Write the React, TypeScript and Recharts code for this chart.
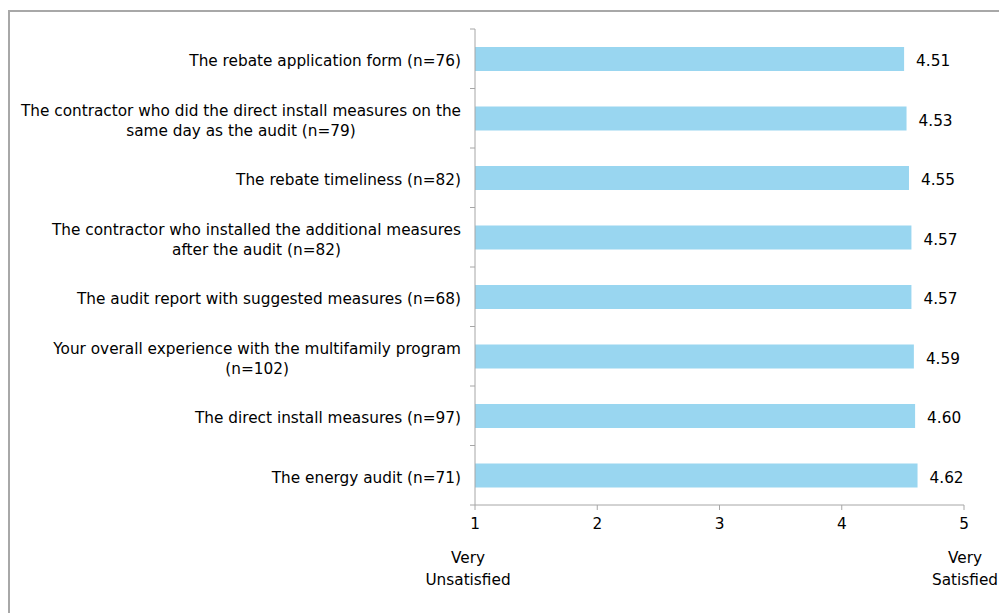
import React from "react"
import { Bar, BarChart, LabelList, XAxis, YAxis } from "recharts"

const items = [
  "The rebate application form (n=76)",
  "The contractor who did the direct install measures on the|same day as the audit (n=79)",
  "The rebate timeliness (n=82)",
  "The contractor who installed the additional measures|after the audit (n=82)",
  "The audit report with suggested measures (n=68)",
  "Your overall experience with the multifamily program|(n=102)",
  "The direct install measures (n=97)",
  "The energy audit (n=71)",
]
const scores = [4.51, 4.53, 4.55, 4.57, 4.57, 4.59, 4.6, 4.62]
const scaleTicks = [1, 2, 3, 4, 5]
const scaleEnds: Record<number, string[]> = {
  1: ["Very", "Unsatisfied"],
  5: ["Very", "Satisfied"],
}

const data = items.map((item, i) => ({ item, score: scores[i] }))

const W = 999
const H = 613
const TOP = 29
const BOTTOM = 108
const LEFT = 475
const RIGHT = 35
const BAND = (H - TOP - BOTTOM) / items.length
const FONT = "DejaVu Sans, Verdana, sans-serif"
const FS = 15.3
const AXIS = "#a6a6a6"

let ctx: CanvasRenderingContext2D | null = null
function textWidth(s: string) {
  if (!ctx) ctx = document.createElement("canvas").getContext("2d")
  if (!ctx) return s.length * FS * 0.6
  ctx.font = `${FS}px DejaVu Sans`
  return ctx.measureText(s).width
}

// category labels, with the band-boundary tick marks drawn alongside
function ItemTick(props: any) {
  const { y, payload, index } = props
  const lines: string[] = String(payload.value).split("|")
  const right = LEFT - 14
  const blockW = Math.max(...lines.map(textWidth))
  const cx = right - blockW / 2
  const lh = 20
  const y0 = y - ((lines.length - 1) * lh) / 2
  return (
    <g>
      <line x1={LEFT - 5} x2={LEFT} y1={y - BAND / 2} y2={y - BAND / 2} stroke={AXIS} />
      {index === items.length - 1 && (
        <line x1={LEFT - 5} x2={LEFT} y1={y + BAND / 2} y2={y + BAND / 2} stroke={AXIS} />
      )}
      {lines.map((l, i) => (
        <text
          key={i}
          x={lines.length > 1 ? cx : right}
          y={y0 + i * lh + 2}
          dy="0.36em"
          textAnchor={lines.length > 1 ? "middle" : "end"}
          fontFamily={FONT}
          fontSize={FS}
          fill="#000"
        >
          {l}
        </text>
      ))}
    </g>
  )
}

function ScaleTick(props: any) {
  const { x, y, payload } = props
  const ends = scaleEnds[payload.value]
  return (
    <g fontFamily={FONT} fontSize={FS} fill="#000">
      <text x={x} y={y + 17} textAnchor="middle">
        {payload.value}
      </text>
      {ends &&
        ends.map((l, i) => (
          <text key={i} x={x + (payload.value === 1 ? -7 : 1)} y={y + 51 + i * 22} textAnchor="middle">
            {l}
          </text>
        ))}
    </g>
  )
}

export default function App() {
  return (
    <div style={{ position: "fixed", left: 0, top: 0, width: W, height: H, background: "#fff", overflow: "hidden" }}>
      <div
        style={{
          position: "absolute",
          left: 8,
          top: 10,
          width: W,
          height: H,
          border: "2px solid #a8a8a8",
          boxSizing: "border-box",
        }}
      />
      <div style={{ position: "absolute", left: 0, top: 0 }}>
        <BarChart
          width={W}
          height={H}
          data={data}
          layout="vertical"
          margin={{ top: TOP, right: RIGHT, bottom: 0, left: 0 }}
        >
          <XAxis
            type="number"
            domain={[1, 5]}
            ticks={scaleTicks}
            height={BOTTOM}
            stroke={AXIS}
            tickSize={5}
            tick={<ScaleTick />}
            allowDataOverflow
          />
          <YAxis
            type="category"
            dataKey="item"
            width={LEFT}
            stroke={AXIS}
            tickLine={false}
            tick={<ItemTick />}
            interval={0}
          />
          <Bar dataKey="score" fill="#99d6f0" barSize={24} isAnimationActive={false}>
            <LabelList
              dataKey="score"
              position="right"
              offset={12}
              formatter={(v: any) => Number(v).toFixed(2)}
              style={{ fontFamily: FONT, fontSize: FS, fill: "#000", transform: "translateY(2px)" }}
            />
          </Bar>
        </BarChart>
      </div>
    </div>
  )
}
